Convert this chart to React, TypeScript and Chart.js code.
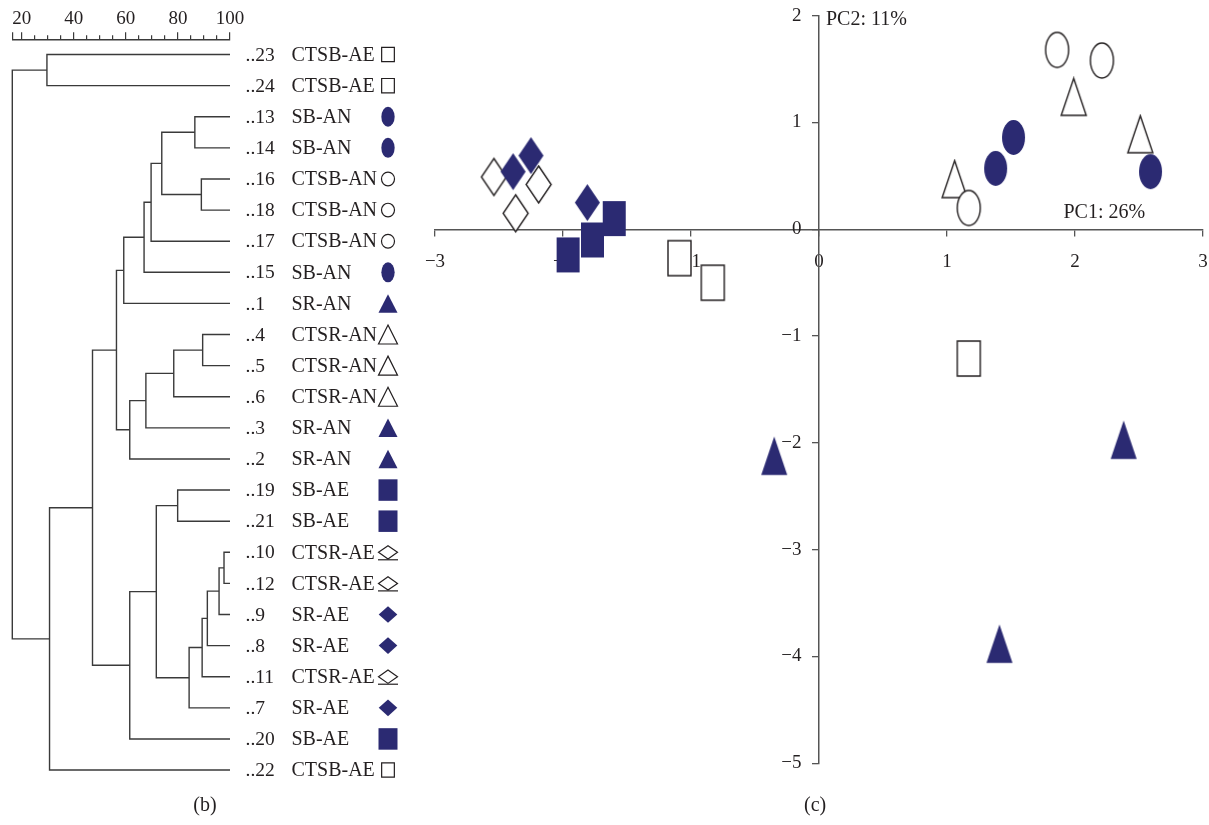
import React, { useEffect, useRef } from 'react';
import { Chart, registerables } from 'chart.js';

Chart.register(...registerables);

// ---------------- (b) Dendrogram data ----------------
const leafIds = ['23', '24', '13', '14', '16', '18', '17', '15', '1', '4', '5', '6', '3', '2', '19', '21', '10', '12', '9', '8', '11', '7', '20', '22'];
const leafGroups = ['CTSB-AE', 'CTSB-AE', 'SB-AN', 'SB-AN', 'CTSB-AN', 'CTSB-AN', 'CTSB-AN', 'SB-AN', 'SR-AN', 'CTSR-AN', 'CTSR-AN', 'CTSR-AN', 'SR-AN', 'SR-AN', 'SB-AE', 'SB-AE', 'CTSR-AE', 'CTSR-AE', 'SR-AE', 'SR-AE', 'CTSR-AE', 'SR-AE', 'SB-AE', 'CTSB-AE'];
// [childA, childB, similarity %]; merge k creates node "m<k>"
const merges: [string, string, number][] = [
  ['23', '24', 29.7],
  ['13', '14', 86.5],
  ['16', '18', 89.0],
  ['m1', 'm2', 73.8],
  ['m3', '17', 69.7],
  ['m4', '15', 67.0],
  ['m5', '1', 59.2],
  ['4', '5', 89.5],
  ['m7', '6', 78.4],
  ['m8', '3', 67.7],
  ['m9', '2', 61.5],
  ['m6', 'm10', 56.4],
  ['19', '21', 79.9],
  ['10', '12', 97.7],
  ['m13', '9', 95.8],
  ['m14', '8', 91.3],
  ['m15', '11', 89.3],
  ['m16', '7', 84.3],
  ['m12', 'm17', 71.7],
  ['m18', '20', 61.5],
  ['m11', 'm19', 47.2],
  ['m20', '22', 30.7],
  ['m0', 'm21', 16.4],
];
const similarityMin = 16.4;
const similarityMax = 100;
const similarityMajorTicks = [16.4, 20, 40, 60, 80, 100];
const similarityMinorTicks = [25, 30, 35, 45, 50, 55, 65, 70, 75, 85, 90, 95];

// ---------------- (c) PCA scores ----------------
const sbAN_pc1 = [1.52, 1.38, 2.59];
const sbAN_pc2 = [0.86, 0.57, 0.54];
const ctsbAN_pc1 = [1.86, 2.21, 1.17];
const ctsbAN_pc2 = [1.68, 1.58, 0.2];
const srAN_pc1 = [-0.35, 2.38, 1.41];
const srAN_pc2 = [-2.12, -1.97, -3.88];
const ctsrAN_pc1 = [1.99, 2.51, 1.06];
const ctsrAN_pc2 = [1.24, 0.89, 0.47];
const sbAE_pc1 = [-1.6, -1.77, -1.96];
const sbAE_pc2 = [0.1, -0.1, -0.24];
const ctsbAE_pc1 = [-1.09, -0.83, 1.17];
const ctsbAE_pc2 = [-0.27, -0.5, -1.21];
const srAE_pc1 = [-2.39, -2.25, -1.81];
const srAE_pc2 = [0.54, 0.69, 0.25];
const ctsrAE_pc1 = [-2.54, -2.19, -2.37];
const ctsrAE_pc2 = [0.49, 0.42, 0.15];
const pc1Ticks = [-3, -2, -1, 0, 1, 2, 3];
const pc2Ticks = [2, 1, 0, -1, -2, -3, -4, -5];

// ---------------- styles ----------------
const NAVY = '#2b2a72';
const INK = '#231f20';
const LINE = '#3a3a3a';
const AXIS = '#555555';
const FAMILY = '"Liberation Serif", "Times New Roman", serif';
const NUM_SIZE = 19;
const TEXT_SIZE = 20;

type Shape = 'ellipse' | 'rect' | 'triangle' | 'diamond';
const groupStyle: Record<string, { shape: Shape; filled: boolean; lw: number; lh: number; sw: number; sh: number }> = {
  'SB-AN': { shape: 'ellipse', filled: true, lw: 13.3, lh: 20, sw: 23, sh: 35 },
  'CTSB-AN': { shape: 'ellipse', filled: false, lw: 13, lh: 13.7, sw: 23, sh: 35 },
  'SR-AN': { shape: 'triangle', filled: true, lw: 19, lh: 18.5, sw: 26, sh: 38.5 },
  'CTSR-AN': { shape: 'triangle', filled: false, lw: 19, lh: 19, sw: 25, sh: 37 },
  'SB-AE': { shape: 'rect', filled: true, lw: 19, lh: 21.5, sw: 23, sh: 35 },
  'CTSB-AE': { shape: 'rect', filled: false, lw: 12.7, lh: 14.3, sw: 23, sh: 35 },
  'SR-AE': { shape: 'diamond', filled: true, lw: 18.6, lh: 16.7, sw: 25, sh: 37 },
  'CTSR-AE': { shape: 'diamond', filled: false, lw: 19, lh: 13.3, sw: 25, sh: 37 },
};

function drawShape(ctx: CanvasRenderingContext2D, shape: Shape, filled: boolean, cx: number, cy: number, w: number, h: number, lw = 1.3) {
  ctx.beginPath();
  if (shape === 'ellipse') ctx.ellipse(cx, cy, w / 2, h / 2, 0, 0, Math.PI * 2);
  else if (shape === 'rect') ctx.rect(cx - w / 2, cy - h / 2, w, h);
  else if (shape === 'triangle') {
    ctx.moveTo(cx, cy - h / 2);
    ctx.lineTo(cx + w / 2, cy + h / 2);
    ctx.lineTo(cx - w / 2, cy + h / 2);
    ctx.closePath();
  } else {
    ctx.moveTo(cx, cy - h / 2);
    ctx.lineTo(cx + w / 2, cy);
    ctx.lineTo(cx, cy + h / 2);
    ctx.lineTo(cx - w / 2, cy);
    ctx.closePath();
  }
  if (filled) {
    ctx.fillStyle = NAVY;
    ctx.fill();
  } else {
    ctx.fillStyle = '#ffffff';
    ctx.fill();
    ctx.strokeStyle = INK;
    ctx.lineWidth = lw;
    ctx.stroke();
  }
}

function makeMarker(group: string): HTMLCanvasElement {
  const st = groupStyle[group];
  const c = document.createElement('canvas');
  c.width = Math.ceil(st.sw + 4);
  c.height = Math.ceil(st.sh + 4);
  const ctx = c.getContext('2d')!;
  drawShape(ctx, st.shape, st.filled, c.width / 2, c.height / 2, st.sw, st.sh, 1.4);
  return c;
}

const fmt = (v: number) => (v < 0 ? '\u2212' + Math.abs(v) : String(v));

// ---------------- dendrogram geometry from data ----------------
function buildDendrogramSegments() {
  const pos: Record<string, { x: number; y: number }> = {};
  leafIds.forEach((id, i) => {
    pos[id] = { x: similarityMax, y: i };
  });
  return merges.map(([a, b, s], k) => {
    const pa = pos[a];
    const pb = pos[b];
    pos['m' + k] = { x: s, y: (pa.y + pb.y) / 2 };
    return [
      { x: pa.x, y: pa.y },
      { x: s, y: pa.y },
      { x: s, y: pb.y },
      { x: pb.x, y: pb.y },
    ];
  });
}

const zeroPad = (s: any) => {
  s.paddingLeft = 0;
  s.paddingRight = 0;
  s.paddingTop = 0;
  s.paddingBottom = 0;
};

const leafLabelPlugin = {
  id: 'leafLabels',
  afterDraw(chart: any) {
    const { ctx } = chart;
    const ys = chart.scales.y;
    ctx.save();
    ctx.textBaseline = 'middle';
    ctx.textAlign = 'left';
    leafIds.forEach((id, i) => {
      const y = ys.getPixelForValue(i);
      ctx.fillStyle = INK;
      ctx.font = `${NUM_SIZE + 0.5}px ${FAMILY}`;
      ctx.fillText('..' + id, 245.5, y + 1);
      ctx.font = `${TEXT_SIZE}px ${FAMILY}`;
      ctx.fillText(leafGroups[i], 291.5, y + 1);
      const st = groupStyle[leafGroups[i]];
      drawShape(ctx, st.shape, st.filled, 388, y, st.lw, st.lh, 1.2);
      if (leafGroups[i] === 'CTSR-AE') {
        ctx.beginPath();
        ctx.strokeStyle = INK;
        ctx.lineWidth = 1.2;
        ctx.moveTo(378, y + 7.5);
        ctx.lineTo(398, y + 7.5);
        ctx.stroke();
      }
    });
    ctx.fillStyle = INK;
    ctx.font = `${TEXT_SIZE}px ${FAMILY}`;
    ctx.textAlign = 'center';
    ctx.fillText('(b)', 205, 806);
    ctx.restore();
  },
};

const pcaTextPlugin = {
  id: 'pcaText',
  afterDraw(chart: any) {
    const { ctx } = chart;
    const xs = chart.scales.x;
    const ys = chart.scales.y;
    ctx.save();
    ctx.font = `${TEXT_SIZE}px ${FAMILY}`;
    ctx.fillStyle = INK;
    ctx.textBaseline = 'middle';
    ctx.textAlign = 'left';
    ctx.fillText('PC2: 11%', xs.getPixelForValue(0) + 7, ys.getPixelForValue(2) + 4);
    ctx.fillText('PC1: 26%', xs.getPixelForValue(1.91), ys.getPixelForValue(0) - 17);
    ctx.textAlign = 'center';
    ctx.fillText('(c)', xs.getPixelForValue(-0.03), 806);
    ctx.restore();
  },
};

export default function App() {
  const leftRef = useRef<HTMLCanvasElement>(null);
  const rightRef = useRef<HTMLCanvasElement>(null);

  useEffect(() => {
    const font = { family: FAMILY, size: NUM_SIZE };
    const segs = buildDendrogramSegments();
    const left = new Chart(leftRef.current!, {
      type: 'scatter',
      data: {
        datasets: segs.map((d) => ({
          data: d,
          showLine: true,
          borderColor: LINE,
          borderWidth: 1.4,
          pointRadius: 0,
          pointHoverRadius: 0,
          clip: false as any,
        })),
      },
      options: {
        animation: false,
        responsive: false,
        devicePixelRatio: 1,
        events: [],
        layout: { autoPadding: false, padding: { left: 12.3, right: 190, top: 0, bottom: 39.4 } },
        plugins: { legend: { display: false }, tooltip: { enabled: false } },
        scales: {
          x: {
            type: 'linear',
            position: 'top',
            min: similarityMin,
            max: similarityMax,
            weight: 1,
            afterBuildTicks: (s: any) => {
              s.ticks = similarityMajorTicks.map((v) => ({ value: v }));
            },
            afterFit: (s: any) => {
              s.height = 39.3;
              zeroPad(s);
            },
            ticks: {
              autoSkip: false,
              maxRotation: 0,
              padding: 2,
              color: INK,
              font,
              callback: (v: any) => (v === similarityMin ? '' : String(v)),
            },
            grid: { drawOnChartArea: false, drawTicks: true, tickLength: 7, color: LINE, lineWidth: 1.2 },
            border: { display: true, color: LINE, width: 1.4 },
          },
          x2: {
            type: 'linear',
            position: 'top',
            min: similarityMin,
            max: similarityMax,
            weight: 0,
            afterBuildTicks: (s: any) => {
              s.ticks = similarityMinorTicks.map((v) => ({ value: v }));
            },
            afterFit: (s: any) => {
              s.height = 0;
              zeroPad(s);
            },
            ticks: { display: false, autoSkip: false },
            grid: { drawOnChartArea: false, drawTicks: true, tickLength: 4, color: LINE, lineWidth: 1.2 },
            border: { display: false },
          },
          y: { type: 'linear', display: false, reverse: true, min: -0.49, max: 23.5 },
        },
      } as any,
      plugins: [leafLabelPlugin],
    });

    const groups: [string, number[], number[], number][] = [
      ['CTSR-AE', ctsrAE_pc1, ctsrAE_pc2, 4],
      ['CTSB-AE', ctsbAE_pc1, ctsbAE_pc2, 4],
      ['CTSR-AN', ctsrAN_pc1, ctsrAN_pc2, 4],
      ['CTSB-AN', ctsbAN_pc1, ctsbAN_pc2, 3],
      ['SR-AE', srAE_pc1, srAE_pc2, 2],
      ['SB-AE', sbAE_pc1, sbAE_pc2, 2],
      ['SB-AN', sbAN_pc1, sbAN_pc2, 1],
      ['SR-AN', srAN_pc1, srAN_pc2, 1],
    ];
    const right = new Chart(rightRef.current!, {
      type: 'scatter',
      data: {
        datasets: groups.map(([g, xs, ys, order]) => ({
          label: g,
          data: xs.map((x, i) => ({ x, y: ys[i] })),
          pointStyle: makeMarker(g),
          pointRadius: 12,
          pointHoverRadius: 12,
          order,
          clip: false as any,
        })),
      },
      options: {
        animation: false,
        responsive: false,
        devicePixelRatio: 1,
        events: [],
        layout: { autoPadding: false, padding: { left: 15, right: 6, top: 15.7, bottom: 61.7 } },
        plugins: { legend: { display: false }, tooltip: { enabled: false } },
        scales: {
          x: {
            type: 'linear',
            min: -3,
            max: 3,
            position: { y: 0 } as any,
            afterBuildTicks: (s: any) => {
              s.ticks = pc1Ticks.map((v) => ({ value: v }));
            },
            afterFit: (s: any) => {
              s.height = 0;
              zeroPad(s);
            },
            ticks: { autoSkip: false, maxRotation: 0, padding: 15, color: INK, font, callback: (v: any) => fmt(v) },
            grid: { drawOnChartArea: false, drawTicks: true, tickLength: 6, color: AXIS, lineWidth: 1.3 },
            border: { display: true, color: AXIS, width: 1.5 },
          },
          y: {
            type: 'linear',
            min: -5,
            max: 2,
            position: { x: 0 } as any,
            afterBuildTicks: (s: any) => {
              s.ticks = pc2Ticks.map((v) => ({ value: v }));
            },
            afterFit: (s: any) => {
              s.width = 0;
              zeroPad(s);
            },
            ticks: { autoSkip: false, padding: 11, color: INK, font, callback: (v: any) => fmt(v) + '\u2002\u2005\u2006' },
            grid: { drawOnChartArea: false, drawTicks: true, tickLength: 6, color: AXIS, lineWidth: 1.3 },
            border: { display: true, color: AXIS, width: 1.5 },
          },
        },
      } as any,
      plugins: [pcaTextPlugin],
    });

    return () => {
      left.destroy();
      right.destroy();
    };
  }, []);

  return (
    <div style={{ position: 'fixed', left: 0, top: 0, width: 1209, height: 825, background: '#ffffff' }}>
      <canvas ref={leftRef} width={420} height={825} style={{ position: 'absolute', left: 0, top: 0, width: 420, height: 825 }} />
      <canvas ref={rightRef} width={789} height={825} style={{ position: 'absolute', left: 420, top: 0, width: 789, height: 825 }} />
    </div>
  );
}
